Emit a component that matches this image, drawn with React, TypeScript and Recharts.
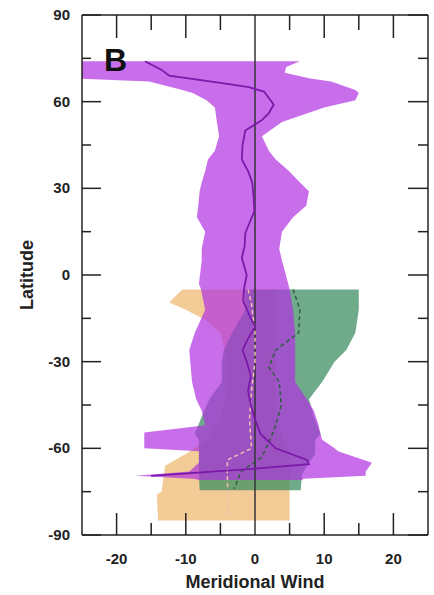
import { ComposedChart, Area, Line, XAxis, YAxis, ReferenceLine } from "recharts";

// violet band: latitude (deg) with low / high meridional wind (m/s)
const violetLat = [74, 72, 70, 68, 67, 64, 63, 60.5, 58, 53, 48, 43, 40, 36, 32, 29, 24, 20, 15, 9, 5, -3, -5, -12, -20, -26, -37, -43, -47, -52, -54.5, -57, -60, -61, -65, -68, -69.5, -70.5, -71];
const violetLo = [-30, -30, -30, -26, -15.3, -10.5, -9, -7, -5.8, -5.5, -5.2, -5.8, -6.8, -7.2, -7.7, -8, -8.2, -8.4, -7.2, -7.7, -7.7, -8.1, -7.8, -7.2, -8.7, -9.5, -9.1, -8.5, -7.7, -7.2, -16, -16, -16, -8.1, -8.1, -9.5, -17.3, -9, -8];
const violetHi = [6.5, 4.5, 4.3, 8, 11, 14.5, 15, 14.5, 10, 3.9, 1, 2, 3, 4.9, 6.5, 7.8, 7.4, 5.5, 3.9, 3.5, 3.9, 4.8, 5, 5.5, 5.8, 5.8, 5.8, 7.5, 8.5, 9.2, 9.4, 9.7, 11.5, 12, 16.9, 16, 16, 7, 6.8];

// violet mean profile
const violetMeanLat = [74, 71, 69, 66.5, 65, 63.5, 59, 56, 53.6, 50, 45, 40, 36, 32, 27, 22, 18, 14.5, 10, 6, 0, -5, -9, -14, -18, -22, -26, -30, -35, -40, -45, -50, -55, -60, -64, -65.5, -67, -69.5];
const violetMean = [-15.9, -13.5, -12.4, -5, -0.9, 1.3, 2.7, 2, 1, -1.4, -1.8, -1.9, -1, -0.4, -0.2, -0.1, -0.8, -1.4, -1.5, -1.9, -1.2, -1.6, -1.7, -0.8, 0, -1, -1.8, -1.2, -0.6, -1, -0.6, 0, 0.8, 3, 7.5, 7.8, 0, -15];

// green band (southern hemisphere only)
const greenLat = [-5, -12, -20, -26, -30, -37, -43, -49, -55, -57, -62, -65, -69, -74.5];
const greenLo = [-1.4, -1.4, -3.3, -4.5, -4.8, -4.8, -6.6, -7.7, -8.7, -8.1, -8.1, -8.1, -8.1, -8];
const greenHi = [15, 15, 14.5, 13.2, 11.5, 9.7, 7.8, 8.5, 9.5, 8.7, 8.7, 7.8, 6.8, 6.6];
const greenMeanLat = [-5, -12, -20, -26, -32, -37, -45, -52, -58, -63, -68, -74];
const greenMean = [5.5, 6.5, 6.3, 3, 2, 3.5, 3.8, 3, 2, 1, -2, -3];

// orange band (southern hemisphere only)
const orangeLat = [-5, -9.5, -12, -15.5, -20, -30, -40, -50, -57, -62, -66, -75, -76, -85];
const orangeLo = [-10.5, -12.4, -10, -7.2, -5, -4, -4, -5, -7, -10, -13, -13.5, -14.2, -14];
const orangeHi = [3, 3, 3, 3, 3, 3, 3, 3, 4, 5, 5, 5, 5, 5];
const orangeMeanLat = [-5, -10, -20, -30, -40, -50, -60, -64, -70, -78, -84];
const orangeMean = [-1, -0.5, 0, 0, -0.5, -0.8, -0.5, -4, -4, -3.9, -3.7];

const latTicks = [-90, -75, -60, -45, -30, -15, 0, 15, 30, 45, 60, 75, 90];
const windTicks = [-20, -15, -10, -5, 0, 5, 10, 15, 20];

const band = (lat: number[], lo: number[], hi: number[]) =>
  lat.map((l, i) => ({ lat: l, range: [lo[i], hi[i]] }));
const profile = (lat: number[], v: number[]) =>
  lat.map((l, i) => ({ lat: l, v: v[i] }));

const violetData = band(violetLat, violetLo, violetHi);
const greenData = band(greenLat, greenLo, greenHi);
const orangeData = band(orangeLat, orangeLo, orangeHi);
const violetMeanData = profile(violetMeanLat, violetMean);

const FONT = "'Liberation Sans', Arial, sans-serif";
const INK = "#222";

// inward tick marks; majors carry the labels
const LeftTick = (p: any) => {
  const major = p.payload.value % 30 === 0;
  return (
    <g>
      <line x1={p.x} x2={p.x + (major ? 19 : 9)} y1={p.y} y2={p.y} stroke={INK} strokeWidth={1.5} />
      {major && (
        <text x={p.x - 12} y={p.y + 5} textAnchor="end" fontSize={15} fontWeight="bold" fontFamily={FONT} fill={INK}>
          {p.payload.value}
        </text>
      )}
    </g>
  );
};

const RightTick = (p: any) => {
  const major = p.payload.value % 30 === 0;
  return <line x1={p.x} x2={p.x - (major ? 20 : 10)} y1={p.y} y2={p.y} stroke={INK} strokeWidth={1.5} />;
};

const BottomTick = (p: any) => {
  const major = p.payload.value % 10 === 0;
  return (
    <g>
      {p.payload.value !== 0 && (
        <line x1={p.x} x2={p.x} y1={p.y} y2={p.y - (major ? 22 : 12)} stroke={INK} strokeWidth={1.5} />
      )}
      {major && (
        <text x={p.x} y={p.y + 29} textAnchor="middle" fontSize={15} fontWeight="bold" fontFamily={FONT} fill={INK}>
          {p.payload.value}
        </text>
      )}
    </g>
  );
};

const TopTick = (p: any) => {
  const major = p.payload.value % 10 === 0;
  if (p.payload.value === 0) return <g />;
  return <line x1={p.x} x2={p.x} y1={p.y} y2={p.y + (major ? 23 : 15)} stroke={INK} strokeWidth={1.5} />;
};

export default function App() {
  return (
    <div style={{ position: "absolute", left: 0, top: 0, width: 434, height: 595, background: "#fff" }}>
      <ComposedChart
        width={434}
        height={595}
        layout="vertical"
        margin={{ top: 14, right: 5, bottom: 20, left: 22 }}
      >
        <XAxis
          xAxisId="b"
          type="number"
          domain={[-25, 25]}
          ticks={windTicks}
          interval={0}
          allowDataOverflow
          height={40}
          tickLine={false}
          tickSize={0}
          tickMargin={0}
          tick={BottomTick}
          axisLine={{ stroke: INK, strokeWidth: 1.5 }}
        />
        <XAxis
          xAxisId="t"
          orientation="top"
          type="number"
          domain={[-25, 25]}
          ticks={windTicks}
          interval={0}
          allowDataOverflow
          height={1}
          tickLine={false}
          tickSize={0}
          tickMargin={0}
          tick={TopTick}
          axisLine={{ stroke: INK, strokeWidth: 1.5 }}
        />
        <YAxis
          yAxisId="l"
          type="number"
          dataKey="lat"
          domain={[-90, 90]}
          reversed
          ticks={latTicks}
          interval={0}
          allowDataOverflow
          width={60}
          tickLine={false}
          tickSize={0}
          tickMargin={0}
          tick={LeftTick}
          axisLine={{ stroke: INK, strokeWidth: 1.5 }}
        />
        <YAxis
          yAxisId="r"
          orientation="right"
          type="number"
          dataKey="lat"
          domain={[-90, 90]}
          reversed
          ticks={latTicks}
          interval={0}
          allowDataOverflow
          width={1}
          tickLine={false}
          tickSize={0}
          tickMargin={0}
          tick={RightTick}
          axisLine={{ stroke: INK, strokeWidth: 1.5 }}
        />
        <ReferenceLine x={0} xAxisId="b" yAxisId="l" stroke="#333" strokeWidth={1.5} />
        <Area
          data={orangeData}
          dataKey="range"
          xAxisId="b"
          yAxisId="l"
          type="linear"
          stroke="none"
          fill="#e9a850"
          fillOpacity={0.6}
          isAnimationActive={false}
        />
        <Area
          data={greenData}
          dataKey="range"
          xAxisId="b"
          yAxisId="l"
          type="linear"
          stroke="none"
          fill="#3f8f63"
          fillOpacity={0.75}
          isAnimationActive={false}
        />
        <Area
          data={violetData}
          dataKey="range"
          xAxisId="b"
          yAxisId="l"
          type="linear"
          stroke="none"
          fill="#b030e2"
          fillOpacity={0.7}
          isAnimationActive={false}
        />
        <Line
          data={profile(orangeMeanLat, orangeMean)}
          dataKey="v"
          xAxisId="b"
          yAxisId="l"
          type="linear"
          stroke="#f0c0b0"
          strokeWidth={1.5}
          strokeDasharray="4 3"
          dot={false}
          isAnimationActive={false}
        />
        <Line
          data={profile(greenMeanLat, greenMean)}
          dataKey="v"
          xAxisId="b"
          yAxisId="l"
          type="linear"
          stroke="#2d5e3e"
          strokeWidth={1.5}
          strokeDasharray="4 3"
          dot={false}
          isAnimationActive={false}
        />
        <Line
          data={violetMeanData}
          dataKey="v"
          xAxisId="b"
          yAxisId="l"
          type="linear"
          stroke="#7a1aa8"
          strokeWidth={1.8}
          dot={false}
          isAnimationActive={false}
        />
        {/* same profile on the top/right axes so the frame axes get drawn */}
        <Line
          data={violetMeanData}
          dataKey="v"
          xAxisId="t"
          yAxisId="r"
          type="linear"
          stroke="none"
          dot={false}
          legendType="none"
          isAnimationActive={false}
        />
      </ComposedChart>
      <svg width={434} height={595} style={{ position: "absolute", left: 0, top: 0, pointerEvents: "none" }}>
        <text x={104} y={71} fontSize={32} fontWeight="bold" fontFamily={FONT} fill="#111">
          B
        </text>
        <text x={255} y={588} textAnchor="middle" fontSize={18} fontWeight="bold" fontFamily={FONT} fill={INK}>
          Meridional Wind
        </text>
        <text transform="translate(33,275) rotate(-90)" textAnchor="middle" fontSize={18} fontWeight="bold" fontFamily={FONT} fill={INK}>
          Latitude
        </text>
      </svg>
    </div>
  );
}
